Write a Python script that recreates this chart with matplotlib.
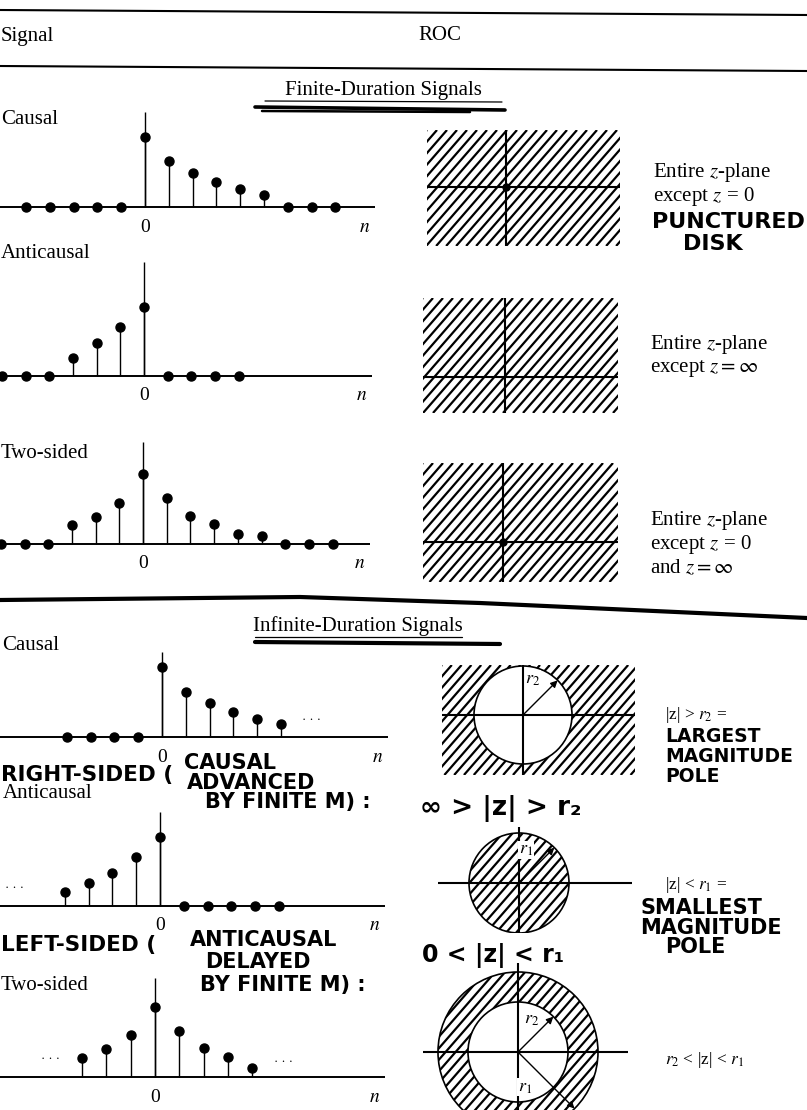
import numpy as np
import matplotlib.pyplot as plt
from matplotlib.lines import Line2D
from matplotlib.patches import Circle

plt.rcParams['font.family'] = ['Liberation Serif', 'DejaVu Serif']
plt.rcParams['mathtext.fontset'] = 'stix'

W, H = 807, 1110
U = 70  # px per unit amplitude in the stem plots

# ---- sequences (amplitude, peak ~ 1) ----
# finite-duration signals
fin_causal_n = np.arange(-5, 9)
fin_causal_x = [0, 0, 0, 0, 0, 1.0, 0.66, 0.49, 0.36, 0.26, 0.17, 0, 0, 0]
fin_anti_n = np.arange(-6, 5)
fin_anti_x = [0, 0, 0, 0.26, 0.47, 0.70, 0.99, 0, 0, 0, 0]
fin_two_n = np.arange(-6, 9)
fin_two_x = [0, 0, 0, 0.27, 0.39, 0.59, 1.0, 0.66, 0.40, 0.29, 0.14, 0.11, 0, 0, 0]

# infinite-duration signals
inf_causal_n = np.arange(-4, 6)
inf_causal_x = [0, 0, 0, 0, 1.0, 0.64, 0.49, 0.36, 0.26, 0.19]
inf_anti_n = np.arange(-4, 6)
inf_anti_x = [0.20, 0.33, 0.47, 0.70, 0.99, 0, 0, 0, 0, 0]
inf_two_n = np.arange(-3, 5)
inf_two_x = [0.27, 0.40, 0.60, 1.0, 0.66, 0.41, 0.29, 0.13]

# ROC radii (r1 > r2)
r2_causal = 1.0
r1_anti = 1.0
r1_two, r2_two = 1.6, 1.0

row_labels = ['Causal', 'Anticausal', 'Two-sided']

fig = plt.figure(figsize=(W / 100, H / 100), dpi=100)
fig.patch.set_facecolor('white')

PRINT = 15


def put(x, y, s, size=PRINT, hand=False, ha='left', **kw):
    if hand:
        kw.setdefault('family', 'DejaVu Sans')
        kw.setdefault('weight', 'bold')
    fig.text(x / W, 1 - y / H, s, fontsize=size, ha=ha, va='center', **kw)


def rule(xs, ys, lw):
    fig.add_artist(Line2D([x / W for x in xs], [1 - y / H for y in ys],
                          color='k', lw=lw, solid_capstyle='round'))


def stem_panel(n, x, zero, step, base, top, end, dots=()):
    pad = 30
    ax = fig.add_axes([0, 1 - (base + pad) / H, end / W, (base + pad - top) / H])
    ax.set_xlim(-zero / step, (end - zero) / step)
    ax.set_ylim(-pad / U, (base - top) / U)
    ax.set_axis_off()
    ml, sl, bl = ax.stem(n, x, linefmt='k-', markerfmt='ko', basefmt=' ')
    ml.set_markersize(6.5)
    ml.set_clip_on(False)
    sl.set_linewidth(1.0)
    ax.axhline(0, color='k', lw=1.4)
    ax.vlines(0, 0, (base - top) / U, color='k', lw=1.0)
    ax.text(0, -20 / U, '0', ha='center', va='center', fontsize=14)
    ax.text((end - zero - 10) / step, -20 / U, '$n$', ha='center', va='center', fontsize=14)
    for dn, dy in dots:
        ax.text(dn, dy, '· · ·', ha='center', va='center', fontsize=9)
    return ax


def plane(x0, y0, x1, y1, cx, cy, u=50):
    ax = fig.add_axes([x0 / W, 1 - y1 / H, (x1 - x0) / W, (y1 - y0) / H])
    ax.set_xlim((x0 - cx) / u, (x1 - cx) / u)
    ax.set_ylim((cy - y1) / u, (cy - y0) / u)
    ax.set_axis_off()
    return ax


def hatch(ax, clip=None, gap=0.2, slope=1.15, lw=1.6):
    x0, x1 = ax.get_xlim()
    y0, y1 = ax.get_ylim()
    dx = (y1 - y0) / slope
    for c in np.arange(x0 - dx, x1 + gap, gap):
        ln, = ax.plot([c, c + dx], [y0, y1], color='k', lw=lw, solid_capstyle='butt')
        if clip is not None:
            ln.set_clip_path(clip)


def axes_cross(ax, lw=1.5, z=4):
    ax.axhline(0, color='k', lw=lw, zorder=z)
    ax.axvline(0, color='k', lw=lw, zorder=z)


def radius(ax, r, ang, name, lx, ly):
    a = np.deg2rad(ang)
    ax.annotate('', xy=(r * np.cos(a), r * np.sin(a)), xytext=(0, 0),
                arrowprops=dict(arrowstyle='-|>', color='k', lw=1.0,
                                mutation_scale=10, shrinkA=0, shrinkB=0), zorder=6)
    ax.text(lx, ly, name, fontsize=13, ha='center', va='center', zorder=6,
            bbox=dict(fc='white', ec='none', pad=0.5))


# ---- header ----
rule([0, 807], [10, 15], 1.5)
rule([0, 807], [66, 71], 1.5)
put(1, 36, 'Signal')
put(440, 36, 'ROC', ha='center')

# ---- finite-duration ----
put(383, 90, 'Finite-Duration Signals', ha='center')
rule([265, 502], [101, 102], 0.9)
rule([255, 505], [107, 110], 2.6)
rule([262, 470], [111, 112], 1.8)

put(1, 119, row_labels[0])
put(1, 254, row_labels[1])
put(1, 453, row_labels[2])

stem_panel(fin_causal_n, fin_causal_x, 145, 23.8, 207, 112, 375)
stem_panel(fin_anti_n, fin_anti_x, 144, 23.7, 376, 262, 372)
stem_panel(fin_two_n, fin_two_x, 143, 23.7, 544, 442, 370)

ax = plane(427, 130, 620, 246, 506, 187)
hatch(ax)
axes_cross(ax)
ax.plot(0, 0, 'ko', ms=5, zorder=5)
put(653, 172, 'Entire $z$-plane')
put(653, 196, 'except $z$ = 0')
put(652, 222, 'PUNCTURED', size=16, hand=True)
put(683, 244, 'DISK', size=16, hand=True)

ax = plane(423, 298, 618, 413, 505, 377)
hatch(ax)
axes_cross(ax)
put(650, 345, 'Entire $z$-plane')
put(650, 369, r'except $z = \infty$')

ax = plane(423, 463, 618, 582, 503, 542)
hatch(ax)
axes_cross(ax)
ax.plot(0, 0, 'ko', ms=5, zorder=5)
put(650, 520, 'Entire $z$-plane')
put(650, 545, 'except $z$ = 0')
put(650, 569, r'and $z = \infty$')

# ---- divider ----
rule([0, 300, 480, 807], [600, 597, 603, 618], 3)

# ---- infinite-duration ----
put(358, 626, 'Infinite-Duration Signals', ha='center')
rule([255, 462], [637, 637], 0.9)
rule([255, 500], [642, 644], 3)

put(2, 645, row_labels[0])
put(3, 793, row_labels[1])
put(1, 985, row_labels[2])

stem_panel(inf_causal_n, inf_causal_x, 162, 23.8, 737, 652, 388, dots=[(6.3, 0.24)])
stem_panel(inf_anti_n, inf_anti_x, 160, 23.8, 906, 812, 385, dots=[(-6.1, 0.26)])
stem_panel(inf_two_n, inf_two_x, 155, 24.3, 1077, 978, 385, dots=[(-4.3, 0.26), (5.3, 0.21)])

# causal: |z| > r2
ax = plane(442, 665, 635, 775, 523, 715, u=49)
hatch(ax, gap=0.2)
ax.add_patch(Circle((0, 0), r2_causal, fc='white', ec='k', lw=1.2, zorder=3))
axes_cross(ax)
radius(ax, r2_causal, 45, '$r_2$', 0.2, 0.72)

# anticausal: |z| < r1
ax = plane(438, 827, 632, 933, 519, 883, u=50)
disk = Circle((0, 0), r1_anti, fill=False, ec='k', lw=1.2, zorder=3)
ax.add_patch(disk)
hatch(ax, clip=disk, gap=0.2)
axes_cross(ax)
radius(ax, r1_anti, 45, '$r_1$', 0.14, 0.66)

# two-sided: r2 < |z| < r1
ax = plane(423, 963, 628, 1140, 518, 1052, u=50)
outer = Circle((0, 0), r1_two, fill=False, ec='k', lw=1.2, zorder=3)
ax.add_patch(outer)
hatch(ax, clip=outer, gap=0.2)
ax.add_patch(Circle((0, 0), r2_two, fc='white', ec='k', lw=1.2, zorder=3))
axes_cross(ax)
radius(ax, r2_two, 45, '$r_2$', 0.28, 0.64)
radius(ax, r1_two, -45, '$r_1$', 0.14, -0.7)

# ROC notes
put(665, 715, '|z| > $r_2$ =', size=12.5)
put(665, 737, 'LARGEST', size=13.5, hand=True)
put(665, 757, 'MAGNITUDE', size=13.5, hand=True)
put(665, 776, 'POLE', size=13.5, hand=True)

put(665, 885, '|z| < $r_1$ =', size=12.5)
put(640, 908, 'SMALLEST', size=15, hand=True)
put(640, 928, 'MAGNITUDE', size=15, hand=True)
put(665, 947, 'POLE', size=15, hand=True)

put(665, 1060, '$r_2$ < |z| < $r_1$', size=12.5)

# handwritten notes on the left
put(1, 775, 'RIGHT-SIDED (', size=15.5, hand=True)
put(184, 763, 'CAUSAL', size=15, hand=True)
put(187, 783, 'ADVANCED', size=15, hand=True)
put(205, 802, 'BY FINITE M) :', size=15, hand=True)
put(420, 808, '∞ > |z| > r₂', size=19, hand=True)

put(1, 945, 'LEFT-SIDED (', size=15.5, hand=True)
put(190, 940, 'ANTICAUSAL', size=15, hand=True)
put(205, 962, 'DELAYED', size=15, hand=True)
put(200, 985, 'BY FINITE M) :', size=15, hand=True)
put(422, 955, '0 < |z| < r₁', size=17, hand=True)

fig.savefig('out.png', dpi=100, facecolor='white')
